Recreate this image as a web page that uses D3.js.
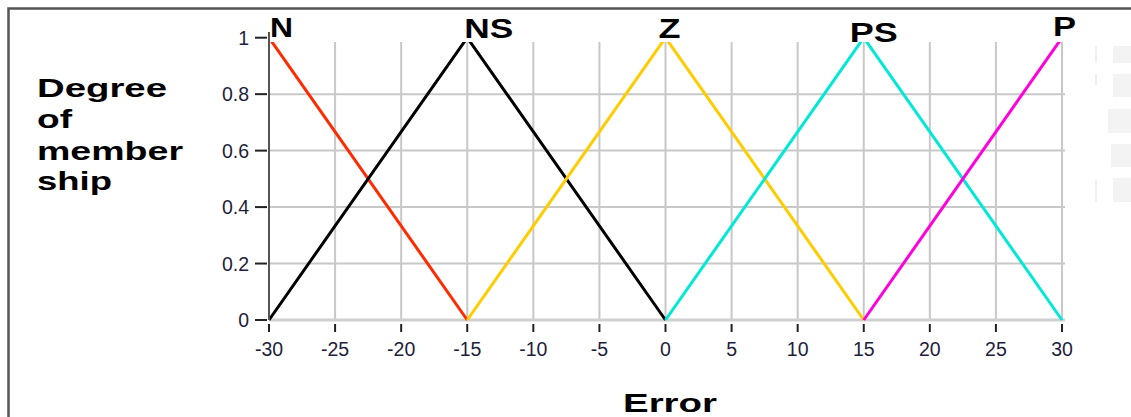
<!DOCTYPE html>
<html><head><meta charset="utf-8">
<script src="https://cdn.jsdelivr.net/npm/d3@7"></script>
<style>html,body{margin:0;padding:0;background:#fff;}svg{display:block;}</style>
</head><body>
<svg id="c" width="1131" height="417"></svg>
<script>
// ---- data ----
const setNames = ["N", "NS", "Z", "PS", "P"];
const setColors = ["#ff2a00", "#000000", "#ffcc00", "#00e8d6", "#ff00dc"];
const N_pts  = [[-30, 1], [-15, 0]];
const NS_pts = [[-30, 0], [-15, 1], [0, 0]];
const Z_pts  = [[-15, 0], [0, 1], [15, 0]];
const PS_pts = [[0, 0], [15, 1], [30, 0]];
const P_pts  = [[15, 0], [30, 1]];
const setPeaks = [-30, -15, 0, 15, 30];
const xTicks = [-30, -25, -20, -15, -10, -5, 0, 5, 10, 15, 20, 25, 30];
const yTicks = [0, 0.2, 0.4, 0.6, 0.8, 1];
const yTickLabels = ["0", "0.2", "0.4", "0.6", "0.8", "1"];
const yTitleLines = ["Degree", "of", "member", "ship"];
const xTitle = "Error";

// ---- layout ----
const svg = d3.select("#c");
const x = d3.scaleLinear().domain([-30, 30]).range([269, 1062]);
const y = d3.scaleLinear().domain([0, 1]).range([320, 37.7]);
const plotTop = 42, plotRight = 1065;

// frame
svg.append("path").attr("d", "M8.5,417 L8.5,8.5 L1131,8.5")
  .attr("fill", "none").attr("stroke", "#555").attr("stroke-width", 2.5);

// faint artifacts at right
const ghost = [[1113, 46, 18, 17], [1113, 74, 18, 23], [1108, 109, 23, 24], [1111, 144, 20, 23], [1113, 178, 18, 24]];
svg.append("g").selectAll("rect").data(ghost).join("rect")
  .attr("x", d => d[0]).attr("y", d => d[1]).attr("width", d => d[2]).attr("height", d => d[3])
  .attr("fill", "#f3f3f3");
svg.append("g").selectAll("rect").data([[1095, 46, 17], [1095, 74, 11], [1095, 180, 22]]).join("rect")
  .attr("x", d => d[0]).attr("y", d => d[1]).attr("width", 2).attr("height", d => d[2]).attr("fill", "#f0f0f0");

// grid
const grid = svg.append("g");
grid.selectAll("line.v").data(xTicks.filter(t => t > -30)).join("line")
  .attr("x1", d => x(d)).attr("x2", d => x(d)).attr("y1", plotTop).attr("y2", y(0))
  .attr("stroke", "#c8c8c8").attr("stroke-width", 2);
grid.selectAll("line.h").data(yTicks.filter(t => t > 0 && t < 1)).join("line")
  .attr("x1", x(-30)).attr("x2", plotRight).attr("y1", d => y(d)).attr("y2", d => y(d))
  .attr("stroke", "#c8c8c8").attr("stroke-width", 2);
grid.append("line").attr("x1", x(-30)).attr("x2", plotRight).attr("y1", y(0)).attr("y2", y(0))
  .attr("stroke", "#d0d0d0").attr("stroke-width", 3);

// curves
svg.append("defs").append("clipPath").attr("id", "clip").append("rect")
  .attr("x", x(-30) - 2).attr("y", plotTop).attr("width", plotRight - x(-30) + 4).attr("height", y(0) - plotTop + 3);
const line = d3.line().x(d => x(d[0])).y(d => y(d[1]));
const series = [N_pts, NS_pts, Z_pts, PS_pts, P_pts];
svg.append("g").attr("clip-path", "url(#clip)").selectAll("path").data(series).join("path")
  .attr("d", line).attr("fill", "none")
  .attr("stroke", (d, i) => setColors[i]).attr("stroke-width", 3).attr("stroke-linejoin", "round");

// y axis
svg.append("line").attr("x1", x(-30)).attr("x2", x(-30)).attr("y1", 32).attr("y2", y(0))
  .attr("stroke", "#555").attr("stroke-width", 2);
const yAx = svg.append("g");
yAx.selectAll("line").data(yTicks).join("line")
  .attr("x1", 255).attr("x2", 267).attr("y1", d => y(d)).attr("y2", d => y(d))
  .attr("stroke", "#222").attr("stroke-width", 2);
yAx.selectAll("text").data(yTicks).join("text")
  .attr("x", 249).attr("y", d => y(d)).attr("dy", "0.36em").attr("text-anchor", "end")
  .attr("font-family", "Liberation Sans").attr("font-size", 19.5).attr("fill", "#1e1e3c")
  .text((d, i) => yTickLabels[i]);

// x axis
const xAx = svg.append("g");
xAx.selectAll("line").data(xTicks).join("line")
  .attr("x1", d => x(d)).attr("x2", d => x(d)).attr("y1", 324).attr("y2", 332)
  .attr("stroke", "#222").attr("stroke-width", 2);
xAx.selectAll("text").data(xTicks).join("text")
  .attr("x", d => x(d)).attr("y", 356).attr("text-anchor", "middle")
  .attr("font-family", "Liberation Sans").attr("font-size", 19.5).attr("fill", "#1e1e3c")
  .text(d => d);

// set labels
const labelDx = [1, -3, -7, -14, -9];
const labelW = [23, 49, 22, 48, 23];
const labelBase = [37, 38, 38, 41.5, 36];
svg.append("g").selectAll("text").data(setNames).join("text")
  .attr("x", (d, i) => x(setPeaks[i]) + labelDx[i]).attr("y", (d, i) => labelBase[i])
  .attr("textLength", (d, i) => labelW[i]).attr("lengthAdjust", "spacingAndGlyphs")
  .attr("font-family", "Liberation Sans").attr("font-weight", "bold").attr("font-size", 27)
  .attr("fill", "#000").text(d => d);

// y title
const ytW = [130, 35, 146, 75];
const ytBase = [97, 128, 160, 190];
svg.append("g").selectAll("text").data(yTitleLines).join("text")
  .attr("x", 37).attr("y", (d, i) => ytBase[i])
  .attr("textLength", (d, i) => ytW[i]).attr("lengthAdjust", "spacingAndGlyphs")
  .attr("font-family", "Liberation Sans").attr("font-weight", "bold").attr("font-size", 26)
  .attr("fill", "#000").text(d => d);

// x title
svg.append("text").attr("x", 623).attr("y", 412)
  .attr("textLength", 94).attr("lengthAdjust", "spacingAndGlyphs")
  .attr("font-family", "Liberation Sans").attr("font-weight", "bold").attr("font-size", 26)
  .attr("fill", "#000").text(xTitle);
</script>
</body></html>
